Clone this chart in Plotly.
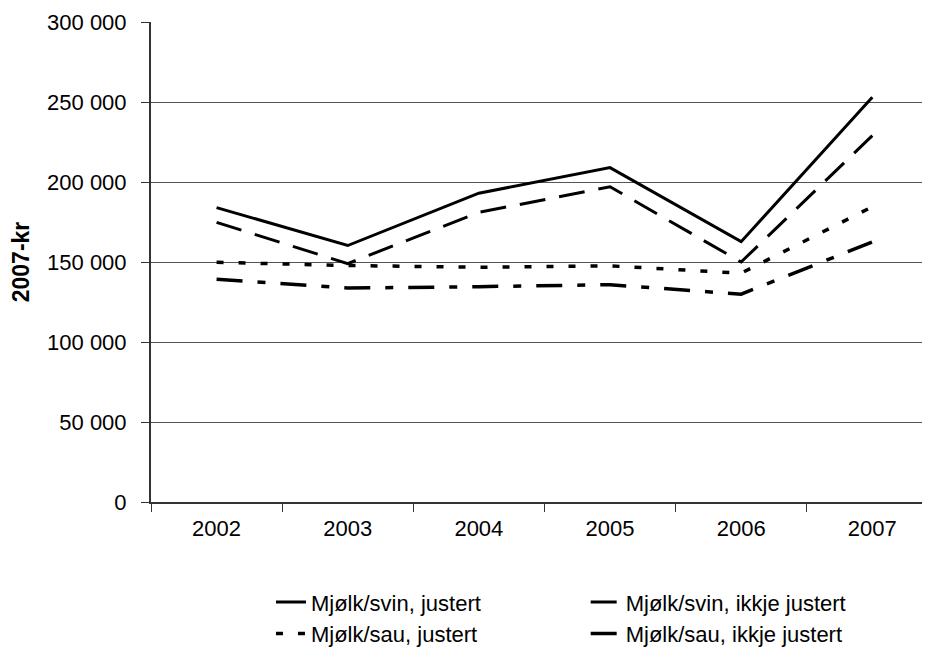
import plotly.graph_objects as go

years = ["2002", "2003", "2004", "2005", "2006", "2007"]
svin_justert = [184000, 160300, 193000, 209000, 162700, 253000]
svin_ikkje = [174800, 149000, 181000, 197000, 150000, 229000]
sau_justert = [149800, 147800, 146700, 147600, 143000, 184500]
sau_ikkje = [139200, 133700, 134600, 135800, 129900, 162500]

y_ticks = [0, 50000, 100000, 150000, 200000, 250000, 300000]
y_tick_text = ["0", "50 000", "100 000", "150 000", "200 000", "250 000", "300 000"]

FONT = "Liberation Sans, Arial, sans-serif"

fig = go.Figure()
fig.add_trace(go.Scatter(x=years, y=svin_justert, mode="lines", name="Mjølk/svin, justert",
                         line=dict(color="black", width=3), legend="legend", legendgroup="a"))
fig.add_trace(go.Scatter(x=years, y=sau_justert, mode="lines", name="Mjølk/sau, justert",
                         line=dict(color="black", width=3.5, dash="7px,15px"), legend="legend", legendgroup="b"))
fig.add_trace(go.Scatter(x=years, y=svin_ikkje, mode="lines", name="Mjølk/svin, ikkje justert",
                         line=dict(color="black", width=3, dash="26px,14px"), legend="legend2", legendgroup="c"))
fig.add_trace(go.Scatter(x=years, y=sau_ikkje, mode="lines", name="Mjølk/sau, ikkje justert",
                         line=dict(color="black", width=3.5, dash="26px,15px,8px,15px"), legend="legend2", legendgroup="d"))

legend_common = dict(font=dict(family=FONT, size=22, color="black"), bgcolor="rgba(0,0,0,0)",
                     orientation="v", xanchor="left", yanchor="top", tracegroupgap=4,
                     traceorder="normal")

fig.update_layout(
    width=922, height=642,
    margin=dict(l=143, r=0, t=14, b=148, autoexpand=False),
    paper_bgcolor="white", plot_bgcolor="white",
    font=dict(family=FONT, size=22, color="black"),
    showlegend=True,
    legend=dict(x=0.154, y=-0.165, **legend_common),
    legend2=dict(x=0.558, y=-0.165, **legend_common),
    xaxis=dict(
        type="category", range=[-0.5, 5.44],
        showline=True, linecolor="#333", linewidth=2,
        ticks="outside", tickson="boundaries", ticklen=8, tickcolor="#333", tickwidth=1,
        ticklabelstandoff=6,
        showgrid=False, zeroline=False,
        tickfont=dict(family=FONT, size=22, color="black"),
    ),
    yaxis=dict(
        range=[0, 300000], tickvals=y_ticks, ticktext=y_tick_text,
        showline=True, linecolor="#333", linewidth=2,
        ticks="outside", ticklen=8, tickcolor="#333", tickwidth=1,
        ticklabelstandoff=10,
        showgrid=True, gridcolor="#555", gridwidth=1, zeroline=False,
        tickfont=dict(family=FONT, size=22, color="black"),
        title=dict(text="<b>2007-kr</b>", font=dict(family=FONT, size=23, color="black"), standoff=18),
    ),
)

fig.write_html("out.html")
